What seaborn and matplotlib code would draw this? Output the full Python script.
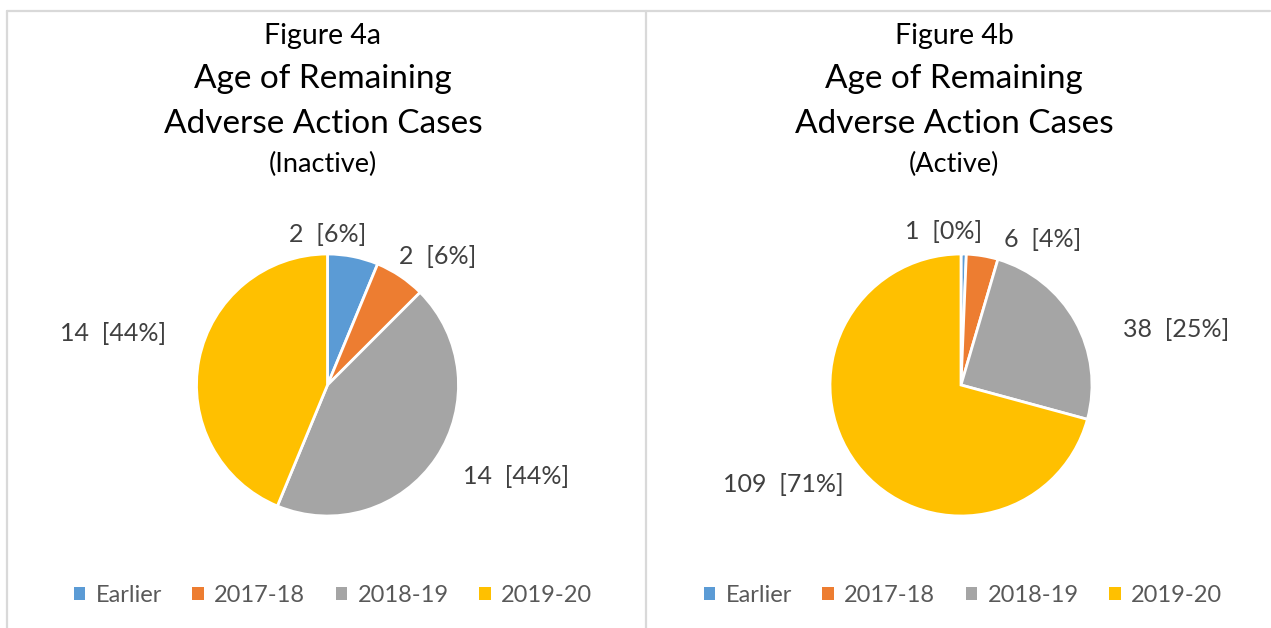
import matplotlib
matplotlib.use("Agg")
import matplotlib.pyplot as plt
import seaborn as sns
import numpy as np
from matplotlib.lines import Line2D
from matplotlib.patches import Patch

# data
categories = ["Earlier", "2017-18", "2018-19", "2019-20"]
inactive_counts = [2, 2, 14, 14]
inactive_labels = ["2  [6%]", "2  [6%]", "14  [44%]", "14  [44%]"]
active_counts = [1, 6, 38, 109]
active_labels = ["1  [0%]", "6  [4%]", "38  [25%]", "109  [71%]"]

sns.set_theme(style="white")
plt.rcParams['font.family'] = ['Lato', 'DejaVu Sans']

palette = sns.color_palette(["#5B9BD5", "#ED7D31", "#A5A5A5", "#FFC000"])
text_col = "#404040"
legend_col = "#595959"

W, H = 1271, 628
fig = plt.figure(figsize=(W / 100, H / 100), dpi=100)
fig.patch.set_facecolor("white")

# panel frames (light gray lines like the Excel chart boxes)
frame = dict(color="#D9D9D9", linewidth=1.6, transform=fig.transFigure)
fig.add_artist(Line2D([7 / W, 7 / W], [0, 1 - 11 / H], **frame))
fig.add_artist(Line2D([646 / W, 646 / W], [0, 1 - 11 / H], **frame))
fig.add_artist(Line2D([7 / W, 1270 / W], [1 - 11 / H, 1 - 11 / H], **frame))

R = 131    # pie radius in pixels
L = 1.8    # axis half-range in radius units


def draw_panel(cx, cy, counts, labels, label_pos, fig_name, sub, title_x, legend_x):
    half = L * R
    ax = fig.add_axes([(cx - half) / W, (H - cy - half) / H, 2 * half / W, 2 * half / H])
    ax.pie(counts, colors=palette, startangle=90, counterclock=False,
           wedgeprops=dict(edgecolor="white", linewidth=2))
    ax.set_xlim(-L, L)
    ax.set_ylim(-L, L)
    ax.axis("off")
    for lab, (px, py) in zip(labels, label_pos):
        ax.text(px, py, lab, ha="center", va="center", fontsize=18, color=text_col)

    fig.text(title_x / W, 1 - 36 / H, fig_name, ha="center", va="center", fontsize=20.5, color="black")
    fig.text(title_x / W, 1 - 79 / H, "Age of Remaining", ha="center", va="center", fontsize=24, color="black")
    fig.text(title_x / W, 1 - 124 / H, "Adverse Action Cases", ha="center", va="center", fontsize=24, color="black")
    fig.text(title_x / W, 1 - 164 / H, sub, ha="center", va="center", fontsize=19.5, color="black")

    handles = [Patch(facecolor=c, edgecolor="none") for c in palette]
    fig.legend(handles, categories, loc="center", bbox_to_anchor=(legend_x / W, 1 - 595 / H),
               ncol=4, frameon=False, fontsize=17, labelcolor=legend_col,
               handlelength=0.47, handleheight=0.47, handletextpad=0.45, columnspacing=1.3)


# text placement around each pie, in radius units from the centre
inactive_pos = [(0.0, 1.15), (0.84, 0.98), (1.44, -0.70), (-1.64, 0.39)]
active_pos = [(-0.13, 1.17), (0.62, 1.11), (1.64, 0.42), (-1.36, -0.76)]

draw_panel(327.5, 385, inactive_counts, inactive_labels, inactive_pos,
           "Figure 4a", "(Inactive)", 323, 333)
draw_panel(961, 385, active_counts, active_labels, active_pos,
           "Figure 4b", "(Active)", 954, 963)

fig.savefig("out.png", dpi=100, facecolor="white")
